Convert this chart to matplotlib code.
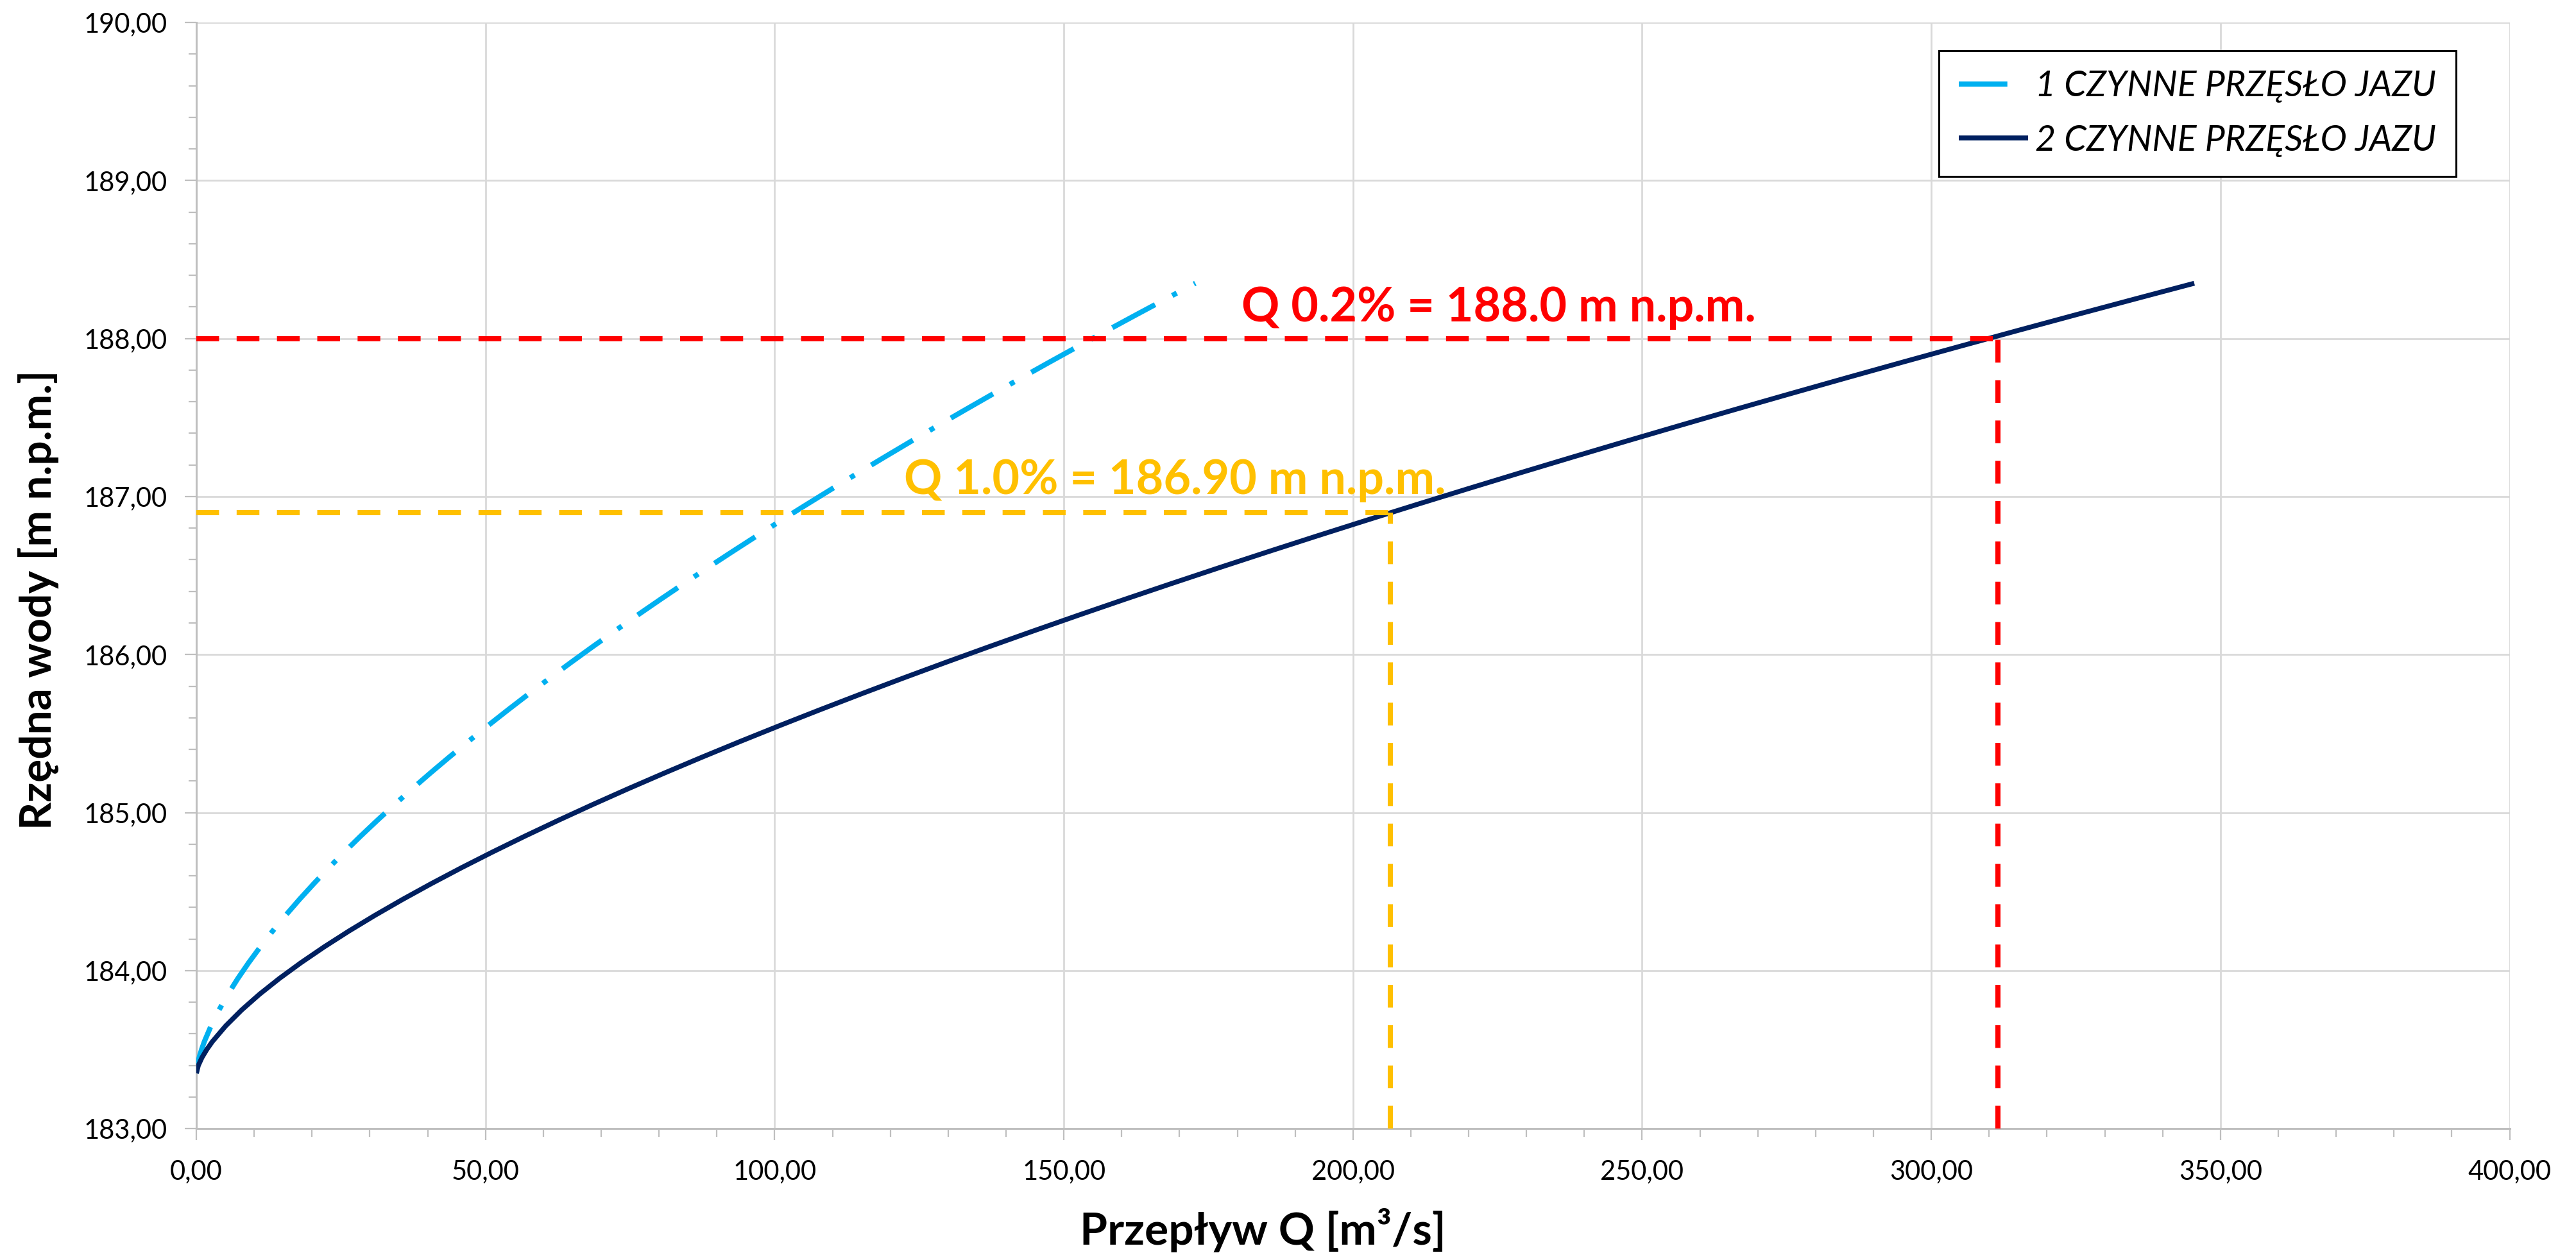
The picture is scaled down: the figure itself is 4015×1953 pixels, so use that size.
import numpy as np
import matplotlib
matplotlib.use("Agg")
import matplotlib.pyplot as plt
from matplotlib.lines import Line2D
from matplotlib.ticker import MultipleLocator, FuncFormatter

plt.rcParams['font.family'] = ['Lato', 'DejaVu Sans']

# rzedne wody [m n.p.m.]
rzedna = [183.35, 183.40, 183.45, 183.50, 183.55, 183.65, 183.75, 183.85, 183.95,
          184.05, 184.15, 184.25, 184.35, 184.45, 184.55, 184.65, 184.75, 184.85,
          184.95, 185.05, 185.15, 185.25, 185.35, 185.45, 185.55, 185.65, 185.75,
          185.85, 185.95, 186.05, 186.15, 186.25, 186.35, 186.45, 186.55, 186.65,
          186.75, 186.85, 186.95, 187.05, 187.15, 187.25, 187.35, 187.45, 187.55,
          187.65, 187.75, 187.85, 187.95, 188.05, 188.15, 188.25, 188.35]
# przeplyw przy 1 czynnym przesle [m3/s]
q_1przeslo = [0.0, 0.17, 0.49, 0.90, 1.38, 2.54, 3.91, 5.46, 7.18,
              9.05, 11.06, 13.19, 15.45, 17.82, 20.31, 22.90, 25.59, 28.38,
              31.27, 34.25, 37.31, 40.46, 43.70, 47.02, 50.42, 53.89, 57.44,
              61.07, 64.77, 68.54, 72.39, 76.30, 80.28, 84.33, 88.44, 92.62,
              96.86, 101.16, 105.53, 109.96, 114.45, 119.00, 123.60, 128.26, 132.99,
              137.76, 142.60, 147.48, 152.43, 157.43, 162.48, 167.58, 172.74]
# przeplyw przy 2 czynnych przeslach [m3/s]
q_2przesla = [0.0, 0.35, 0.98, 1.80, 2.76, 5.08, 7.82, 10.92, 14.36,
              18.10, 22.11, 26.38, 30.90, 35.65, 40.62, 45.80, 51.19, 56.77,
              62.54, 68.49, 74.62, 80.93, 87.40, 94.03, 100.83, 107.78, 114.89,
              122.14, 129.54, 137.09, 144.78, 152.60, 160.56, 168.66, 176.88, 185.24,
              193.72, 202.33, 211.06, 219.92, 228.89, 237.99, 247.20, 256.53, 265.97,
              275.53, 285.19, 294.97, 304.86, 314.85, 324.95, 335.16, 345.47]

seria_nazwy = ['1 CZYNNE PRZĘSŁO JAZU', '2 CZYNNE PRZĘSŁO JAZU']

# poziomy charakterystyczne
q02_rzedna, q02_przeplyw = 188.0, 311.5
q10_rzedna, q10_przeplyw = 186.9, 206.5
q02_opis = 'Q 0.2% = 188.0 m n.p.m.'
q10_opis = 'Q 1.0% = 186.90 m n.p.m.'

jasny = '#00B0F0'
ciemny = '#002060'

fig = plt.figure(figsize=(40.16, 19.53), dpi=100)
ax = fig.add_axes([0.0762, 0.0993, 0.8978, 0.8827])

ax.plot(q_1przeslo, rzedna, color=jasny, lw=5.8, dashes=(9.4, 3.75, 1.0, 3.75),
        dash_capstyle='butt', zorder=3)
ax.plot(q_2przesla, rzedna, color=ciemny, lw=5.5, solid_capstyle='butt', zorder=4)

# linie odniesienia
ax.plot([0, q02_przeplyw], [q02_rzedna, q02_rzedna], color='#FF0000', lw=5.8,
        dashes=(4.4, 3.4), dash_capstyle='butt', zorder=5)
ax.plot([q02_przeplyw, q02_przeplyw], [183, q02_rzedna], color='#FF0000', lw=5.8,
        dashes=(4.4, 3.4), dash_capstyle='butt', zorder=5)
ax.plot([0, q10_przeplyw], [q10_rzedna, q10_rzedna], color='#FFC000', lw=5.8,
        dashes=(4.4, 3.4), dash_capstyle='butt', zorder=5)
ax.plot([q10_przeplyw, q10_przeplyw], [183, q10_rzedna], color='#FFC000', lw=5.8,
        dashes=(4.4, 3.4), dash_capstyle='butt', zorder=5)

ax.text(180.7, 188.108, q02_opis, color='#FF0000', fontsize=53, fontweight='bold',
        ha='left', va='baseline', zorder=6)
ax.text(122.4, 187.018, q10_opis, color='#FFC000', fontsize=53, fontweight='bold',
        ha='left', va='baseline', zorder=6)

ax.set_xlim(0, 400)
ax.set_ylim(183, 190)
ax.xaxis.set_major_locator(MultipleLocator(50))
ax.xaxis.set_minor_locator(MultipleLocator(10))
ax.yaxis.set_major_locator(MultipleLocator(1))
ax.yaxis.set_minor_locator(MultipleLocator(0.2))
fmt = FuncFormatter(lambda v, p: f'{v:.2f}'.replace('.', ','))
ax.xaxis.set_major_formatter(fmt)
ax.yaxis.set_major_formatter(fmt)

ax.grid(True, which='major', color='#D9D9D9', lw=2)
ax.set_axisbelow(True)
for s in ['top', 'right']:
    ax.spines[s].set_visible(False)
for s in ['left', 'bottom']:
    ax.spines[s].set_color('#BFBFBF')
    ax.spines[s].set_linewidth(2.2)
    ax.spines[s].set_zorder(2)

ax.tick_params(which='major', direction='out', length=13, width=1.6, color='#BFBFBF',
               labelsize=30, labelcolor='black')
ax.tick_params(which='minor', direction='out', length=9, width=1.6, color='#BFBFBF')
ax.tick_params(axis='x', which='major', pad=22)
ax.tick_params(axis='y', which='major', pad=20)

ax.set_xlabel('Przepływ Q [m³/s]', fontsize=50, fontweight='bold')
ax.set_ylabel('Rzędna wody [m n.p.m.]', fontsize=48.5, fontweight='bold')
ax.xaxis.set_label_coords(0.461, -0.072)
ax.yaxis.set_label_coords(-0.0593, 0.478)

# w legendzie probka linii przerywanej pokazuje tylko pierwsza kreske
uchwyty = [Line2D([], [], color=jasny, lw=5.8, dashes=(9.4, 20), dash_capstyle='butt'),
           Line2D([], [], color=ciemny, lw=5.5, solid_capstyle='butt')]
leg = ax.legend(uchwyty, seria_nazwy, loc='upper left', bbox_to_anchor=(0.7525, 0.9596),
                bbox_transform=fig.transFigure,
                prop={'style': 'italic', 'size': 40}, frameon=True, fancybox=False,
                framealpha=1, edgecolor='black', handlelength=1.95, handletextpad=0.2,
                borderpad=0.55, labelspacing=0.6, borderaxespad=0)
leg.get_frame().set_linewidth(2.2)

fig.savefig('out.png', dpi=100, facecolor='white')
